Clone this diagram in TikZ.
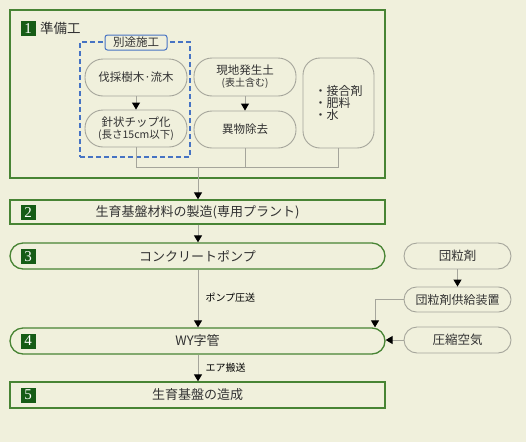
\documentclass[tikz,border=0pt]{standalone}
\usepackage{fontspec}
\newfontfamily\jp{Noto Sans CJK JP}
\newfontfamily\numfont{Liberation Serif}
\usetikzlibrary{arrows.meta,positioning}
\definecolor{bgc}{RGB}{240,240,220}
\definecolor{grn}{RGB}{72,132,52}
\definecolor{badgec}{RGB}{22,92,22}
\definecolor{gline}{RGB}{165,165,155}
\definecolor{txt}{RGB}{50,50,50}
\definecolor{blu}{RGB}{70,115,195}
\tikzset{
  stepbox/.style={draw=grn, line width=1.3pt, fill=bgc, minimum width=375pt, inner sep=0pt, text=txt, font=\jp\fontsize{13}{14}\selectfont},
  pill/.style={draw=gline, line width=0.9pt, fill=bgc, rounded corners=#1, inner sep=0pt, text=txt, align=center, font=\jp\fontsize{11.5}{14}\selectfont},
  pill/.default=12pt,
  badge/.style={fill=badgec, minimum size=15pt, inner sep=0pt, text=white, font=\numfont\fontsize{15}{15}\selectfont},
  conn/.style={draw=gline, line width=1pt},
  arr/.style={conn, -{Triangle[length=7pt,width=8pt,color=black,fill=black]}},
  lbl/.style={font=\jp\fontsize{10}{11}\selectfont, text=black, inner sep=0pt, xshift=7pt},
}
\begin{document}
\begin{tikzpicture}[x=1pt,y=-1pt]
\fill[bgc] (0,0) rectangle (526,442);
\useasboundingbox (0,0) rectangle (526,442);
% step 1 frame
\node[draw=grn, line width=1.3pt, minimum width=375pt, minimum height=168pt, inner sep=0pt] (box1) at (197.5,94) {};
\node[badge] (b1) at (28,28.5) {1};
\node[anchor=west, text=txt, inner sep=0pt, font=\jp\fontsize{13.5}{14}\selectfont] (t1) at (40,28.5) {準備工};
% dashed group
\node[draw=blu, line width=1.5pt, dash pattern=on 5pt off 3pt, minimum width=110pt, minimum height=115pt, inner sep=0pt] (grp) at (135,99.5) {};
\node[draw=blu, line width=1pt, fill=bgc, rounded corners=2.5pt, minimum width=62pt, minimum height=15pt, inner sep=0pt, text=txt, font=\jp\fontsize{11.5}{12}\selectfont] (grpl) at (136,42.5) {別途施工};
% nodes in step 1
\node[pill=18pt, minimum width=102pt, minimum height=37pt] (fell) at (136,77.5) {伐採樹木·流木};
\node[pill=18pt, minimum width=102pt, minimum height=37pt] (chip) at (136,128.5) {針状チップ化\\[-2pt]{\fontsize{10.5}{12}\selectfont (長さ15cm以下)}};
\node[pill=18pt, minimum width=102pt, minimum height=38pt] (soil) at (245,77) {現地発生土\\[-2pt]{\fontsize{10}{12}\selectfont (表土含む)}};
\node[pill=18pt, minimum width=102pt, minimum height=37pt] (rem) at (245,129.5) {異物除去};
\node[pill=17pt, minimum width=71pt, minimum height=90pt, align=left, font=\jp\fontsize{12}{14}\selectfont] (mix) at (338.5,103) {・接合剤\\[-2pt]・肥料\\[-2pt]・水};
\draw[arr] (fell) -- (chip);
\draw[arr] (soil) -- (rem);
\coordinate (jrow) at (198,167);
\draw[conn] (chip.south) -- (chip.south |- jrow) -- (mix.south |- jrow) -- (mix.south);
\draw[conn] (rem.south) -- (rem.south |- jrow);
% steps 2-5
\node[stepbox, minimum height=24pt] (box2) at (197.5,212) {生育基盤材料の製造(専用プラント)};
\node[stepbox, minimum height=26pt, rounded corners=13pt] (box3) at (197.5,256) {コンクリートポンプ};
\node[stepbox, minimum height=26pt, rounded corners=13pt] (box4) at (197.5,341) {WY字管};
\node[stepbox, minimum height=26pt] (box5) at (197.5,395) {生育基盤の造成};
\node[badge] (b2) at (28,212.5) {2};
\node[badge] (b3) at (28,256.5) {3};
\node[badge] (b4) at (28,341) {4};
\node[badge] (b5) at (28,395) {5};
\draw[arr] (jrow) -- (jrow |- box2.north);
\draw[arr] (jrow |- box2.south) -- (jrow |- box3.north);
\draw[arr] (jrow |- box3.south) -- node[lbl, anchor=west, pos=0.48] (l1) {ポンプ圧送} (jrow |- box4.north);
\draw[arr] (jrow |- box4.south) -- node[lbl, anchor=west, pos=0.5] (l2) {エア搬送} (jrow |- box5.north);
% right side
\node[pill=13pt, minimum width=107pt, minimum height=26pt, font=\jp\fontsize{12.5}{14}\selectfont] (dan) at (457.5,256) {団粒剤};
\node[pill=12.5pt, minimum width=107pt, minimum height=25pt, font=\jp\fontsize{12}{14}\selectfont] (sup) at (457.5,299.5) {団粒剤供給装置};
\node[pill=13pt, minimum width=107pt, minimum height=26pt, font=\jp\fontsize{12.5}{14}\selectfont] (air) at (457.5,340) {圧縮空気};
\coordinate (kink) at (375,299.5);
\draw[arr] (dan) -- (sup);
\draw[arr] (sup.west) -- (kink) -- (kink |- box4.north);
\draw[arr] (air.west) -- (box4.east |- air.west);
\end{tikzpicture}
\end{document}
